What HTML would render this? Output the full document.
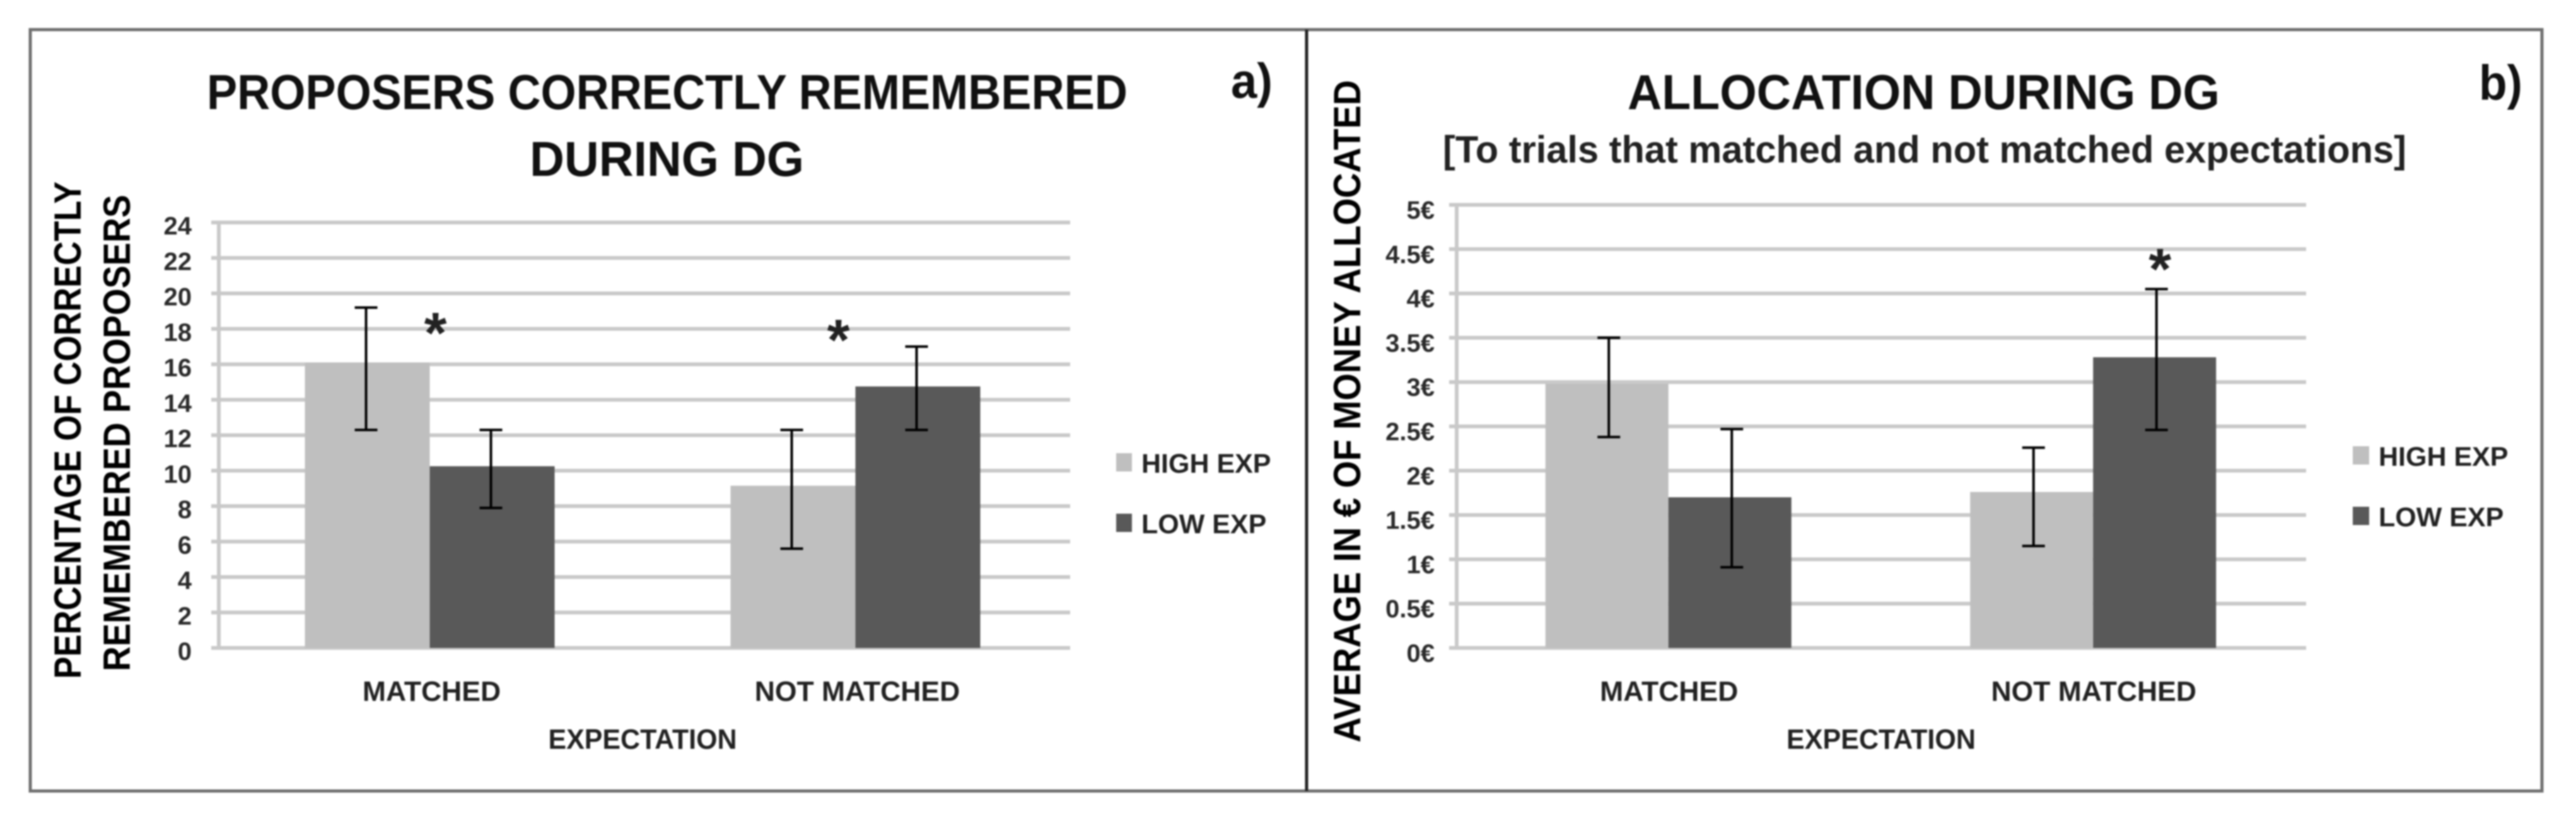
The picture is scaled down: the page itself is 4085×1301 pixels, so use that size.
<!DOCTYPE html>
<html lang="en">
<head>
<meta charset="utf-8">
<title>Proposers remembered and allocation during DG</title>
<style>
html,body{margin:0;padding:0;background:#fff;width:4085px;height:1301px;overflow:hidden}
svg{display:block;filter:blur(1.3px)}
text{font-family:"Liberation Sans",sans-serif;font-weight:bold;fill:#111}
.tick{font-size:40px;fill:#2a2a2a;text-anchor:end}
.cat{font-size:44.5px;fill:#222;text-anchor:middle}
.leg{font-size:43px;fill:#222}
.axt{font-size:60px;fill:#000}
.ttl{font-size:78px;fill:#111}
.sub{font-size:60px;fill:#222}
.tag{font-size:78px;fill:#111;font-weight:bold}
.star{font-size:92px;fill:#222;text-anchor:middle;font-weight:bold}
</style>
</head>
<body>
<svg id="figure" xmlns="http://www.w3.org/2000/svg" width="4085" height="1301" viewBox="0 0 4085 1301">
  <rect width="4085" height="1301" fill="#fff"/>
  <rect x="48" y="47" width="2024" height="1208" fill="none" stroke="#707070" stroke-width="5"/>
  <rect x="2072" y="47" width="1959" height="1208" fill="none" stroke="#707070" stroke-width="5"/>
  <line x1="2072" y1="47" x2="2072" y2="1255" stroke="#222" stroke-width="5"/>

  <g id="chart-a"></g>
  <g id="chart-b"></g>

  <text class="ttl" x="328" y="173" textLength="1460" lengthAdjust="spacingAndGlyphs">PROPOSERS CORRECTLY REMEMBERED</text>
  <text class="ttl" x="840" y="279" textLength="435" lengthAdjust="spacingAndGlyphs">DURING DG</text>
  <text class="tag" x="1952" y="155" textLength="66" lengthAdjust="spacingAndGlyphs">a)</text>
  <text class="axt" transform="translate(128,1077) rotate(-90)" textLength="789" lengthAdjust="spacingAndGlyphs">PERCENTAGE OF CORRECTLY</text>
  <text class="axt" transform="translate(206,1065) rotate(-90)" textLength="756" lengthAdjust="spacingAndGlyphs">REMEMBERED PROPOSERS</text>
  <text class="cat" x="1019" y="1188" textLength="299" lengthAdjust="spacingAndGlyphs">EXPECTATION</text>

  <text class="ttl" x="2581" y="173" textLength="939" lengthAdjust="spacingAndGlyphs">ALLOCATION DURING DG</text>
  <text class="sub" x="2288" y="258" textLength="1528" lengthAdjust="spacingAndGlyphs">[To trials that matched and not matched expectations]</text>
  <text class="tag" x="3931" y="158" textLength="69" lengthAdjust="spacingAndGlyphs">b)</text>
  <text class="axt" transform="translate(2157,1178) rotate(-90)" textLength="1051" lengthAdjust="spacingAndGlyphs">AVERAGE IN € OF MONEY ALLOCATED</text>
  <text class="cat" x="2983" y="1188" textLength="300" lengthAdjust="spacingAndGlyphs">EXPECTATION</text>
</svg>

<script>
const categories = ['MATCHED', 'NOT MATCHED'];
const seriesNames = ['HIGH EXP', 'LOW EXP'];

const rememberedTickValues = [0, 2, 4, 6, 8, 10, 12, 14, 16, 18, 20, 22, 24];
const rememberedTickLabels = ['0', '2', '4', '6', '8', '10', '12', '14', '16', '18', '20', '22', '24'];
const rememberedHigh = [16.1, 9.15];
const rememberedLow = [10.25, 14.75];
const rememberedHighErrTop = [19.2, 12.3];
const rememberedHighErrBottom = [12.3, 5.6];
const rememberedLowErrTop = [12.3, 17.0];
const rememberedLowErrBottom = [7.9, 12.3];

const allocationTickValues = [0, 0.5, 1, 1.5, 2, 2.5, 3, 3.5, 4, 4.5, 5];
const allocationTickLabels = ['0€', '0.5€', '1€', '1.5€', '2€', '2.5€', '3€', '3.5€', '4€', '4.5€', '5€'];
const allocationHigh = [2.98, 1.76];
const allocationLow = [1.70, 3.28];
const allocationHighErrTop = [3.5, 2.26];
const allocationHighErrBottom = [2.38, 1.15];
const allocationLowErrTop = [2.47, 4.05];
const allocationLowErrBottom = [0.91, 2.46];

const NS = 'http://www.w3.org/2000/svg';
const HIGH_COLOR = '#bfbfbf';
const LOW_COLOR = '#595959';

function make(parent, tag, attrs, content) {
  const el = document.createElementNS(NS, tag);
  Object.keys(attrs).forEach(function (k) { el.setAttribute(k, attrs[k]); });
  if (content !== undefined) el.textContent = content;
  parent.appendChild(el);
  return el;
}

function drawErrorBar(group, x, top, bottom, capHalf) {
  const stem = make(group, 'line', { x1: x, x2: x, y1: top, y2: bottom, stroke: '#000', 'stroke-width': 4 });
  
  
  const capTop = make(group, 'line', { x1: x - capHalf, x2: x + capHalf, y1: top, y2: top, stroke: '#000', 'stroke-width': 4 });
  
  
  const capBottom = make(group, 'line', { x1: x - capHalf, x2: x + capHalf, y1: bottom, y2: bottom, stroke: '#000', 'stroke-width': 4 });
  
  
}

function drawChart(cfg) {
  const g = document.getElementById(cfg.id);
  const maxTick = cfg.tickValues[cfg.tickValues.length - 1];
  const y = function (v) { return cfg.y0 - (v / maxTick) * (cfg.y0 - cfg.y1); };
  const band = (cfg.x1 - cfg.x0) / categories.length;
  const xCenter = function (i) { return cfg.x0 + band * (i + 0.5); };

  cfg.tickValues.forEach(function (v, i) {
    const line = make(g, 'line', { x1: cfg.x0 - 12, x2: cfg.x1, y1: y(v), y2: y(v), stroke: '#c9c9c9', 'stroke-width': 6 });
    
    
    const label = make(g, 'text', { class: 'tick', x: cfg.tickX, y: y(v) + cfg.tickDy }, cfg.tickLabels[i]);
    
    
  });

  const axis = make(g, 'line', { x1: cfg.x0, x2: cfg.x0, y1: y(maxTick), y2: y(0), stroke: '#c9c9c9', 'stroke-width': 6 });
  
  

  categories.forEach(function (cat, i) {
    const c = xCenter(i) + cfg.barShift;
    const barHigh = make(g, 'rect', { x: c - cfg.barW, y: y(cfg.high[i]), width: cfg.barW, height: y(0) - y(cfg.high[i]), fill: HIGH_COLOR });
    
    
    const barLow = make(g, 'rect', { x: c, y: y(cfg.low[i]), width: cfg.barW, height: y(0) - y(cfg.low[i]), fill: LOW_COLOR });
    
    
    drawErrorBar(g, c - cfg.barW / 2 + cfg.errShift, y(cfg.highTop[i]), y(cfg.highBottom[i]), 18);
    drawErrorBar(g, c + cfg.barW / 2 + cfg.errShift, y(cfg.lowTop[i]), y(cfg.lowBottom[i]), 18);
    const catLabel = make(g, 'text', { class: 'cat', x: xCenter(i), y: 1112 }, cat);
    
    
  });

  seriesNames.forEach(function (name, i) {
    const swatch = make(g, 'rect', { x: cfg.legX, y: cfg.legY + i * 96, width: cfg.legW, height: 29, fill: i === 0 ? HIGH_COLOR : LOW_COLOR });
    
    
    const legText = make(g, 'text', { class: 'leg', x: cfg.legTextX, y: cfg.legY + 31 + i * 96 }, name);
    
    
  });

  return function drawStar(groupIndex, value, dx) {
    const star = make(g, 'text', { class: 'star', x: xCenter(groupIndex) + dx, y: y(value) + 38 }, '*');
    
    
  };
}

const starA = drawChart({
  id: 'chart-a', x0: 347, x1: 1697, y0: 1028, y1: 353,
  tickValues: rememberedTickValues, tickLabels: rememberedTickLabels,
  high: rememberedHigh, low: rememberedLow,
  highTop: rememberedHighErrTop, highBottom: rememberedHighErrBottom,
  lowTop: rememberedLowErrTop, lowBottom: rememberedLowErrBottom,
  tickX: 304, tickDy: 19, barW: 198, barShift: -3, errShift: -2,
  legX: 1770, legY: 719, legW: 25, legTextX: 1810
});
starA(0, 18.0, 6);
starA(1, 17.6, -30);

const starB = drawChart({
  id: 'chart-b', x0: 2310, x1: 3657, y0: 1028, y1: 325,
  tickValues: allocationTickValues, tickLabels: allocationTickLabels,
  high: allocationHigh, low: allocationLow,
  highTop: allocationHighErrTop, highBottom: allocationHighErrBottom,
  lowTop: allocationLowErrTop, lowBottom: allocationLowErrBottom,
  tickX: 2275, tickDy: 22, barW: 195, barShift: -1, errShift: 3,
  legX: 3731, legY: 708, legW: 26, legTextX: 3772
});
starB(1, 4.32, 105);
</script>
</body>
</html>
